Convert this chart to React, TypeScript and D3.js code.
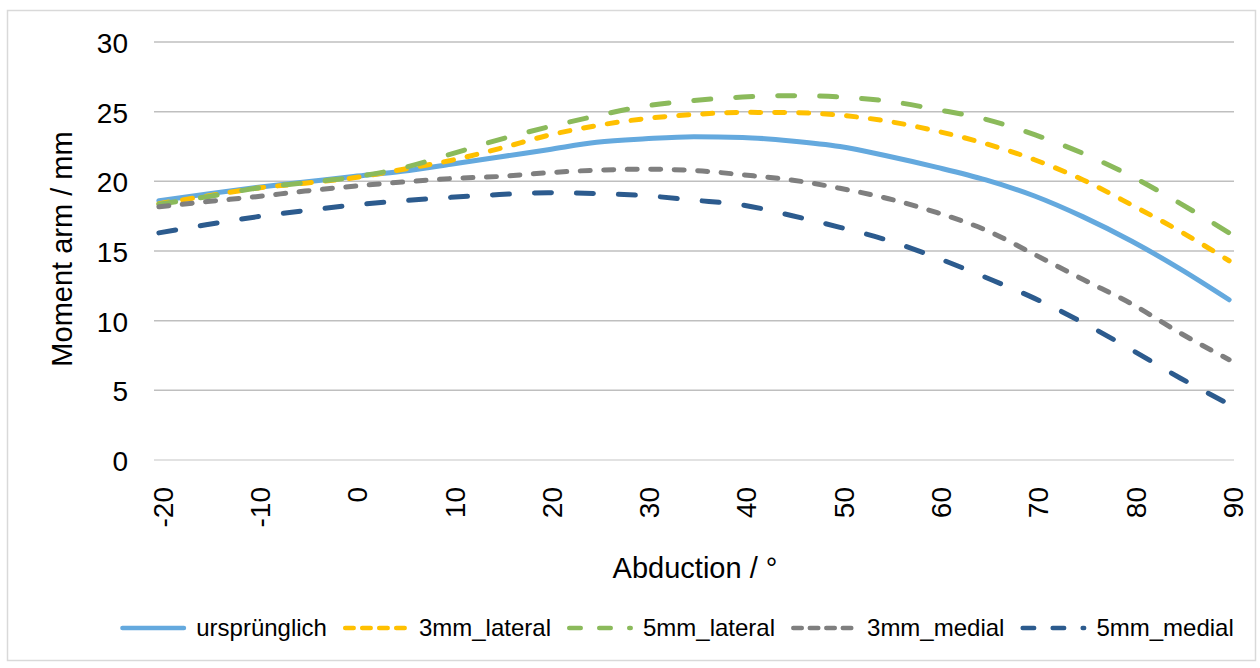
import React from 'react';
import * as d3 from 'd3';

const abduction = [-20, -15, -10, -5, 0, 5, 10, 15, 20, 25, 30, 35, 40, 45, 50, 55, 60, 65, 70, 75, 80, 85, 90];
const ursprunglich = [18.6, 19.1, 19.55, 19.95, 20.35, 20.72, 21.22, 21.75, 22.27, 22.8, 23.05, 23.2, 23.15, 22.9, 22.5, 21.8, 21.0, 20.1, 18.95, 17.45, 15.7, 13.7, 11.5];
const lateral3 = [18.4, 18.95, 19.5, 19.87, 20.25, 20.85, 21.5, 22.35, 23.3, 24.0, 24.5, 24.8, 24.95, 24.93, 24.75, 24.3, 23.6, 22.7, 21.55, 20.1, 18.3, 16.4, 14.3];
const lateral5 = [18.35, 18.9, 19.5, 19.9, 20.3, 20.95, 21.95, 23.0, 23.9, 24.7, 25.4, 25.8, 26.05, 26.15, 26.05, 25.75, 25.15, 24.45, 23.35, 22.0, 20.35, 18.4, 16.3];
const medial3 = [18.17, 18.55, 18.9, 19.3, 19.65, 19.95, 20.2, 20.35, 20.62, 20.8, 20.87, 20.78, 20.47, 20.1, 19.5, 18.75, 17.75, 16.5, 14.75, 12.95, 11.2, 9.1, 7.2];
const medial5 = [16.3, 16.9, 17.45, 17.9, 18.3, 18.6, 18.85, 19.05, 19.18, 19.12, 18.97, 18.65, 18.3, 17.55, 16.7, 15.75, 14.5, 13.1, 11.6, 9.85, 7.9, 5.87, 4.0];

const seriesNames = ['ursprünglich', '3mm_lateral', '5mm_lateral', '3mm_medial', '5mm_medial'];
const seriesValues = [ursprunglich, lateral3, lateral5, medial3, medial5];
const seriesColors = ['#64A9DE', '#FFC000', '#8BBA5B', '#7F7F7F', '#2C5B8E'];
const seriesDash = ['none', '10 14', '17 25', '10 13.5', '17 25'];
const legendDash = ['none', '8.5 8.5', '11.5 18.5', '8.5 8', '11.5 18.5'];

const yTicks = [0, 5, 10, 15, 20, 25, 30];
const xTicks = [-20, -10, 0, 10, 20, 30, 40, 50, 60, 70, 80, 90];

const FONT = 'Liberation Sans, Arial, Helvetica, sans-serif';

function measure(text: string, size: number): number {
  const c = document.createElement('canvas').getContext('2d');
  if (!c) return text.length * size * 0.55;
  c.font = `${size}px ${FONT}`;
  return c.measureText(text).width;
}

export default function App() {
  const W = 1260, H = 668;
  const left = 154, right = 1234, top = 42, bottom = 460;
  const x = d3.scaleLinear().domain([-20.5, 90.5]).range([left, right]);
  const y = d3.scaleLinear().domain([0, 30]).range([bottom, top]);
  const line = d3.line<[number, number]>()
    .x(d => x(d[0]))
    .y(d => y(d[1]))
    .curve(d3.curveMonotoneX);

  const legendFont = 24;
  const lineLen = 66, lineGap = 10, itemGap = 16;
  const widths = seriesNames.map(n => measure(n, legendFont));
  const total = widths.reduce((a, b) => a + b, 0) + seriesNames.length * (lineLen + lineGap) + (seriesNames.length - 1) * itemGap;
  let cursor = 677 - total / 2;
  const legendItems = seriesNames.map((n, i) => {
    const start = cursor;
    cursor += lineLen + lineGap + widths[i] + itemGap;
    return { n, i, start };
  });
  const legendY = 628;

  return (
    <svg width={W} height={H} style={{ position: 'absolute', left: 0, top: 0, background: '#fff' }} fontFamily={FONT}>
      <rect x={0} y={0} width={W} height={H} fill="#fff" />
      <rect x={7.5} y={10.5} width={1248} height={650} fill="none" stroke="#D9D9D9" strokeWidth={1.5} />
      {yTicks.map(t => (
        <line key={'g' + t} x1={left} x2={right} y1={y(t)} y2={y(t)} stroke={t === 0 ? '#D9D9D9' : '#BFBFBF'} strokeWidth={1.5} />
      ))}
      {yTicks.map(t => (
        <text key={'yt' + t} x={128} y={y(t) + 11} textAnchor="end" fontSize={28} fill="#000">{t}</text>
      ))}
      {xTicks.map(t => (
        <text key={'xt' + t} transform={`translate(${x(t) + 4},487) rotate(-90)`} textAnchor="end" dy="0.35em" fontSize={28} fill="#000">{t}</text>
      ))}
      {seriesValues.map((vals, i) => (
        <path key={'s' + i}
          d={line(abduction.map((a, k) => [a, vals[k]] as [number, number])) || ''}
          fill="none" stroke={seriesColors[i]} strokeWidth={5}
          strokeLinecap="round" strokeLinejoin="round"
          strokeDasharray={seriesDash[i]} />
      ))}
      <text transform="translate(62,249) rotate(-90)" textAnchor="middle" dy="0.35em" fontSize={29} fill="#000">Moment arm / mm</text>
      <text x={695} y={578} textAnchor="middle" fontSize={29} fill="#000">Abduction / °</text>
      {legendItems.map(({ n, i, start }) => (
        <g key={'l' + i}>
          <line x1={start + 2.25} x2={start + lineLen - 2.25} y1={legendY} y2={legendY}
            stroke={seriesColors[i]} strokeWidth={4.5} strokeLinecap="round" strokeDasharray={legendDash[i]} />
          <text x={start + lineLen + lineGap} y={legendY + 8} fontSize={legendFont} fill="#000">{n}</text>
        </g>
      ))}
    </svg>
  );
}
